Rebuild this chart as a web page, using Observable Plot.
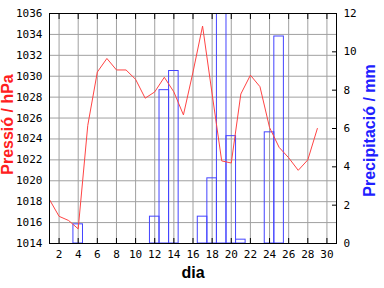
<!DOCTYPE html>
<html>
<head>
<meta charset="utf-8">
<script src="https://cdn.jsdelivr.net/npm/d3@7"></script>
<script src="https://cdn.jsdelivr.net/npm/@observablehq/plot@0.6"></script>
<style>
  html, body { margin: 0; padding: 0; background: #fff; }
  #chart svg { display: block; }
</style>
</head>
<body>
<div id="chart"></div>
<script>
const days = [1,2,3,4,5,6,7,8,9,10,11,12,13,14,15,16,17,18,19,20,21,22,23,24,25,26,27,28,29];
const pressure = [1018.2,1016.6,1016.2,1015.4,1025.3,1030.4,1031.7,1030.6,1030.6,1029.7,1027.9,1028.5,1029.9,1028.5,1026.3,1030.4,1034.8,1028.3,1021.9,1021.7,1028.3,1030.1,1029.0,1025.1,1023.2,1022.2,1021.0,1022.0,1025.0];
const precip = [0,0,0,1.0,0,0,0,0,0,0,0,1.4,8.0,9.0,0,0,1.4,3.4,12,5.6,0.2,0,0,5.8,10.8,0,0,0,0];
const xTicks = [2,4,6,8,10,12,14,16,18,20,22,24,26,28,30];
const pTicks = [1014,1016,1018,1020,1022,1024,1026,1028,1030,1032,1034,1036];
const mmTicks = [0,2,4,6,8,10,12];

const pMin = 1014, pMax = 1036, mmMax = 12;
const toP = mm => pMin + mm * (pMax - pMin) / mmMax;
const toMM = p => (p - pMin) * mmMax / (pMax - pMin);

const rows = days.map((d, i) => ({day: d, p: pressure[i], mm: precip[i]}));

const mono = "DejaVu Sans Mono, monospace";
const sans = "Liberation Sans, Arial, sans-serif";

const chart = Plot.plot({
  width: 384,
  height: 288,
  marginLeft: 49,
  marginRight: 48,
  marginTop: 13,
  marginBottom: 45,
  style: {fontFamily: mono, fontSize: "11px", background: "#fff", color: "#000"},
  x: {domain: [1, 31]},
  y: {domain: [pMin, pMax]},
  marks: [
    Plot.gridX(xTicks, {stroke: "#a0a0a0", strokeOpacity: 1}),
    Plot.gridY(pTicks, {stroke: "#a0a0a0", strokeOpacity: 1}),
    Plot.rect(rows, {
      x1: d => d.day - 0.5, x2: d => d.day + 0.5,
      y1: () => pMin, y2: d => toP(d.mm),
      fill: "none", stroke: "#4444ff", strokeWidth: 1, clip: true
    }),
    Plot.line(rows, {x: "day", y: "p", stroke: "#ff4444", strokeWidth: 1, clip: true}),
    Plot.frame({stroke: "#000"}),
    Plot.axisX({anchor: "bottom", ticks: xTicks, tickSize: -5, tickPadding: 12, tickFormat: d => String(d), label: null, fontFamily: mono, fontSize: 11}),
    Plot.axisX({anchor: "top", ticks: xTicks, tickSize: -5, tickFormat: () => "", label: null}),
    Plot.axisY({anchor: "left", ticks: pTicks, tickSize: 0, tickPadding: 7, tickFormat: d => String(d), label: null, fontFamily: mono, fontSize: 11}),
    Plot.axisY({anchor: "right", ticks: mmTicks.map(toP), tickSize: -5, tickPadding: 12, tickFormat: d => String(Math.round(toMM(d))), label: null, fontFamily: mono, fontSize: 11}),
    Plot.text(["Pressió / hPa"], {frameAnchor: "left", rotate: -90, dx: -42, dy: -4, fill: "#ff2020", fontFamily: sans, fontWeight: "bold", fontSize: 16, textAnchor: "middle"}),
    Plot.text(["Precipitació / mm"], {frameAnchor: "right", rotate: -90, dx: 33, dy: 2, fill: "#2020ff", fontFamily: sans, fontWeight: "bold", fontSize: 16, textAnchor: "middle"}),
    Plot.text(["dia"], {frameAnchor: "bottom", dy: 34, fill: "#000", fontFamily: sans, fontWeight: "bold", fontSize: 16, textAnchor: "middle"})
  ]
});
document.getElementById("chart").appendChild(chart);
</script>
</body>
</html>
